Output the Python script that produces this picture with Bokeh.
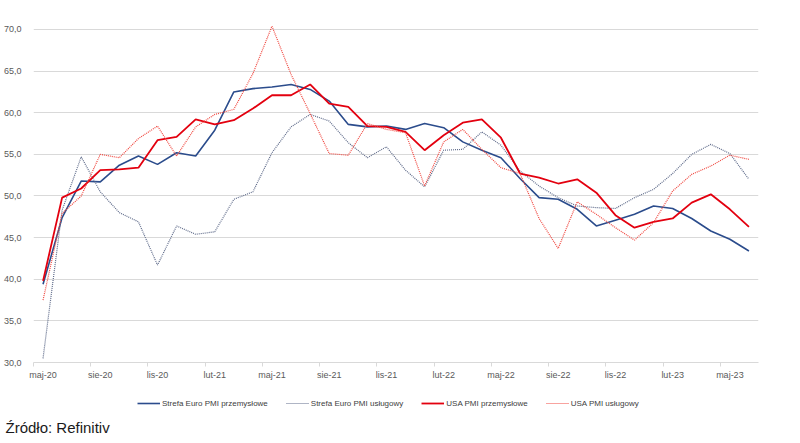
from bokeh.plotting import figure
from bokeh.models import Range1d, FixedTicker, Legend, LegendItem, Label
from bokeh.layouts import column
from bokeh.embed import file_html
from bokeh.resources import INLINE

months = ["maj-20", "cze-20", "lip-20", "sie-20", "wrz-20", "paź-20", "lis-20", "gru-20",
          "sty-21", "lut-21", "mar-21", "kwi-21", "maj-21", "cze-21", "lip-21", "sie-21",
          "wrz-21", "paź-21", "lis-21", "gru-21", "sty-22", "lut-22", "mar-22", "kwi-22",
          "maj-22", "cze-22", "lip-22", "sie-22", "wrz-22", "paź-22", "lis-22", "gru-22",
          "sty-23", "lut-23", "mar-23", "kwi-23", "maj-23", "cze-23"]

euro_manuf = [39.4, 47.4, 51.8, 51.7, 53.7, 54.8, 53.8, 55.2, 54.8, 57.9, 62.5, 62.9,
              63.1, 63.4, 62.8, 61.4, 58.6, 58.3, 58.4, 58.0, 58.7, 58.2, 56.5, 55.5,
              54.6, 52.1, 49.8, 49.6, 48.4, 46.4, 47.1, 47.8, 48.8, 48.5, 47.3, 45.8,
              44.8, 43.4]
euro_serv = [30.5, 48.3, 54.7, 50.5, 48.0, 46.9, 41.7, 46.4, 45.4, 45.7, 49.6, 50.5,
             55.2, 58.3, 59.8, 59.0, 56.4, 54.6, 55.9, 53.1, 51.1, 55.5, 55.6, 57.7,
             56.1, 53.0, 51.2, 49.8, 48.8, 48.6, 48.5, 49.8, 50.8, 52.7, 55.0, 56.2,
             55.1, 52.0]
usa_manuf = [39.8, 49.8, 50.9, 53.1, 53.2, 53.4, 56.7, 57.1, 59.2, 58.6, 59.1, 60.5,
             62.1, 62.1, 63.4, 61.1, 60.7, 58.4, 58.3, 57.7, 55.5, 57.3, 58.8, 59.2,
             57.0, 52.7, 52.2, 51.5, 52.0, 50.4, 47.7, 46.2, 46.9, 47.3, 49.2, 50.2,
             48.4, 46.3]
usa_serv = [37.5, 47.9, 50.0, 55.0, 54.6, 56.9, 58.4, 54.8, 58.3, 59.8, 60.4, 64.7,
            70.4, 64.6, 59.9, 55.1, 54.9, 58.7, 58.0, 57.6, 51.2, 56.5, 58.0, 55.6,
            53.4, 52.7, 47.3, 43.7, 49.3, 47.8, 46.2, 44.7, 46.8, 50.6, 52.6, 53.6,
            54.9, 54.4]

series_names = ["Strefa Euro PMI przemysłowe", "Strefa Euro PMI usługowy",
                "USA PMI przemysłowe", "USA PMI usługowy"]
y_ticks = [30, 35, 40, 45, 50, 55, 60, 65, 70]
y_tick_labels = ["30,0", "35,0", "40,0", "45,0", "50,0", "55,0", "60,0", "65,0", "70,0"]
source_text = "Źródło: Refinitiv"

FONT = "Liberation Sans"
colors = ["#2B4C8C", "#5F6B8A", "#E3000F", "#F0473F"]
widths = [1.6, 1.2, 1.8, 1.2]
dashes = ["solid", "1 1", "solid", "1 1"]
all_series = [euro_manuf, euro_serv, usa_manuf, usa_serv]
x = list(range(len(months)))
label_idx = list(range(0, len(months), 3))

p = figure(width=800, height=385, output_backend="svg", toolbar_location=None,
           x_range=Range1d(-0.5, len(months) - 0.5), y_range=Range1d(30, 70.6),
           min_border_left=32, min_border_right=42, min_border_top=24, min_border_bottom=23)
p.frame_align = False
p.outline_line_color = None
p.background_fill_color = "white"
p.border_fill_color = "white"

p.xaxis.ticker = FixedTicker(ticks=label_idx, minor_ticks=[i - 0.5 for i in label_idx])
p.xaxis.major_label_overrides = {i: months[i] for i in label_idx}
p.xaxis.major_tick_out = 0
p.xaxis.major_tick_in = 0
p.xaxis.minor_tick_out = 4
p.xaxis.minor_tick_in = 0
p.xaxis.minor_tick_line_color = "#d9d9d9"
p.xaxis.axis_line_color = "#d9d9d9"
p.xaxis.major_label_standoff = 3
p.xaxis.major_label_text_font = FONT
p.xaxis.major_label_text_font_size = "9px"
p.xaxis.major_label_text_color = "#595959"

p.yaxis.ticker = FixedTicker(ticks=y_ticks)
p.yaxis.major_label_overrides = {t: l for t, l in zip(y_ticks, y_tick_labels)}
p.yaxis.axis_line_color = None
p.yaxis.major_tick_line_color = None
p.yaxis.minor_tick_line_color = None
p.yaxis.major_label_standoff = 6
p.yaxis.major_label_text_font = FONT
p.yaxis.major_label_text_font_size = "9px"
p.yaxis.major_label_text_color = "#595959"

p.xgrid.grid_line_color = None
p.ygrid.ticker = FixedTicker(ticks=y_ticks)
p.ygrid.grid_line_color = "#d9d9d9"
p.ygrid.grid_line_width = 1

for vals, c, w, d in zip(all_series, colors, widths, dashes):
    p.line(x, vals, line_color=c, line_width=w, line_dash=d)

# legend + source strip
q = figure(width=800, height=58, output_backend="svg", toolbar_location=None,
           x_range=Range1d(0, 1), y_range=Range1d(0, 1),
           min_border=0, x_axis_location=None, y_axis_location=None)
q.frame_align = False
q.outline_line_color = None
q.grid.visible = False
q.border_fill_color = "white"
q.background_fill_color = "white"

items = []
for name, vals, c, w, d in zip(series_names, all_series, colors, widths, dashes):
    # single-point line: draws nothing in the strip, only feeds the legend glyph
    r = q.line(x[:1], vals[:1], line_color=c, line_width=w, line_dash=d)
    items.append(LegendItem(label=name, renderers=[r]))

legend = Legend(items=items, orientation="horizontal", location=(137, 35),
                glyph_width=23, glyph_height=10, label_height=10, label_standoff=2,
                spacing=18, padding=0, margin=0, border_line_color=None,
                background_fill_alpha=0,
                label_text_font=FONT, label_text_font_size="8px",
                label_text_color="#404040")
q.add_layout(legend, "center")

q.add_layout(Label(x=5, y=16, x_units="screen", y_units="screen", text=source_text,
                   text_font=FONT, text_font_size="15px", text_color="#1a1a1a",
                   text_baseline="middle", text_align="left"))

open("out.html", "w").write(file_html(column(p, q, spacing=0), INLINE))
